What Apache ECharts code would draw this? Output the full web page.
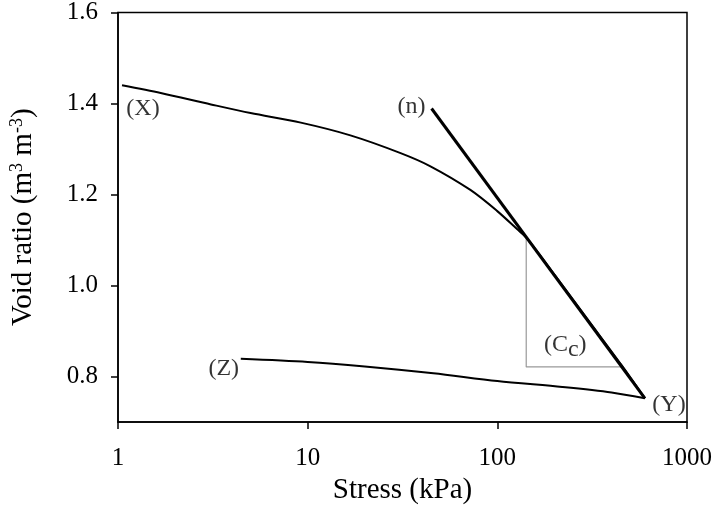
<!DOCTYPE html>
<html>
<head>
<meta charset="utf-8">
<script src="https://cdn.jsdelivr.net/npm/echarts@6/dist/echarts.min.js"></script>
<style>html,body{margin:0;padding:0;background:#fff}#c{width:716px;height:510px}</style>
</head>
<body>
<div id="c"></div>
<script>
// Curve (X) -> (Y): virgin compression curve
const curveXStress = [1.05, 1.68, 3.09, 5.0, 9.2, 16.8, 30.9, 44.4, 72.1, 99.6, 127, 143, 200, 300, 450, 600];
const curveXVoid   = [1.44, 1.423, 1.398, 1.379, 1.358, 1.330, 1.291, 1.262, 1.210, 1.164, 1.124, 1.104, 1.024, 0.925, 0.826, 0.752];
// Straight line (n) -> (Y): compression index tangent
const lineNStress = [45, 600];
const lineNVoid   = [1.389, 0.752];
// Curve (Z) -> (Y): recompression curve
const curveZStress = [4.44, 10, 20, 46, 100, 220, 400, 600];
const curveZVoid   = [0.839, 0.832, 0.822, 0.807, 0.790, 0.777, 0.765, 0.752];
// Gray Cc triangle legs
const triStress = [142, 142, 450];
const triVoid   = [1.105, 0.821, 0.821];
// Annotation labels
const labelText   = ['(X)', '(n)', '(Z)', '(Y)', '(C{sub|c})'];
const labelStress = [1.354, 35.3, 3.61, 804, 228];
const labelVoid   = [1.388, 1.394, 0.818, 0.737, 0.869];
// Tick values
const xTicks = [1, 10, 100, 1000];
const yTicks = [0.8, 1.0, 1.2, 1.4, 1.6];

const FONT = 'Liberation Serif';
const zip = (a, b) => a.map((v, i) => [v, b[i]]);

const chart = echarts.init(document.getElementById('c'), null, {renderer: 'canvas'});
chart.setOption({
  animation: false,
  backgroundColor: '#fff',
  grid: {left: 117, right: 29, top: 11, bottom: 88, show: true, borderColor: '#000', borderWidth: 1.5, backgroundColor: 'transparent'},
  xAxis: {
    type: 'log', logBase: 10, min: 1, max: 1000,
    name: 'Stress (kPa)', nameLocation: 'middle', nameGap: 51,
    nameTextStyle: {fontFamily: FONT, fontSize: 29, color: '#000'},
    axisLine: {show: true, onZero: false, lineStyle: {color: '#000', width: 1.5}},
    axisTick: {show: true, inside: false, length: 7, lineStyle: {color: '#000', width: 1.5}},
    minorTick: {show: false},
    splitLine: {show: false},
    axisLabel: {fontFamily: FONT, fontSize: 25, color: '#000', margin: 24,
      formatter: v => String(Math.round(v))}
  },
  yAxis: {
    type: 'value', min: 0.7, max: 1.6, interval: 0.1,
    name: 'Void ratio (m{sup|3} m{sup|-3})', nameLocation: 'middle', nameGap: 80, nameRotate: 90,
    nameTextStyle: {fontFamily: FONT, fontSize: 29, color: '#000',
      rich: {sup: {fontFamily: FONT, fontSize: 18, color: '#000', verticalAlign: 'top', padding: [0, 0, 12, 0]}}},
    axisLine: {show: true, onZero: false, lineStyle: {color: '#000', width: 1.5}},
    axisTick: {show: true, inside: false, length: 7, customValues: yTicks, lineStyle: {color: '#000', width: 1.5}},
    splitLine: {show: false},
    axisLabel: {fontFamily: FONT, fontSize: 25, color: '#000', margin: 20, customValues: yTicks,
      formatter: v => v.toFixed(1)}
  },
  series: [
    {type: 'line', data: zip(curveXStress, curveXVoid), showSymbol: false, smooth: 0.3,
      lineStyle: {color: '#000', width: 2}, z: 3},
    {type: 'line', data: zip(lineNStress, lineNVoid), showSymbol: false,
      lineStyle: {color: '#000', width: 3}, z: 4},
    {type: 'line', data: zip(curveZStress, curveZVoid), showSymbol: false, smooth: 0.3,
      lineStyle: {color: '#000', width: 2}, z: 3},
    {type: 'line', data: zip(triStress, triVoid), showSymbol: false,
      lineStyle: {color: '#999', width: 1.2}, z: 2},
    {type: 'scatter', symbolSize: 0, z: 5,
      data: labelText.map((t, i) => ({name: t, value: [labelStress[i], labelVoid[i]]})),
      label: {show: true, position: 'inside', fontFamily: FONT, fontSize: 24, color: '#000',
        formatter: p => p.name,
        rich: {sub: {fontFamily: FONT, fontSize: 24, color: '#000', padding: [10, 0, 0, 0]}}}}
  ]
});
</script>
</body>
</html>
